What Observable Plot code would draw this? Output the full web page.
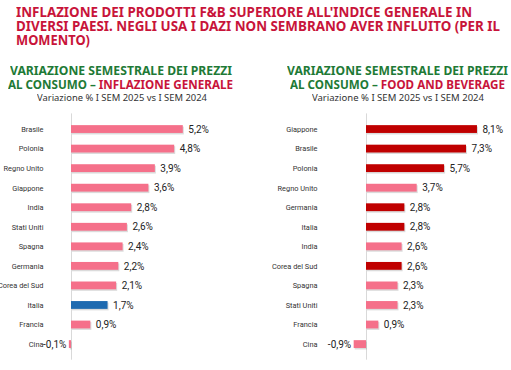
<!DOCTYPE html>
<html>
<head>
<meta charset="utf-8">
<script src="https://cdn.jsdelivr.net/npm/d3@7"></script>
<script src="https://cdn.jsdelivr.net/npm/@observablehq/plot@0.6"></script>
<style>
  html, body { margin: 0; padding: 0; background: #fff; }
  #page { position: relative; width: 511px; height: 370px; overflow: hidden; font-family: "Noto Sans", sans-serif; }
  .fit { position: absolute; white-space: nowrap; transform-origin: 0 50%; display: inline-block; }
  .t { font-weight: bold; font-size: 14px; line-height: 14px; color: #C8143A; }
  .h { font-weight: bold; font-size: 12px; line-height: 13px; color: #1E7A36; }
  .h .red { color: #C8143A; }
  .s { font-size: 9px; line-height: 10px; color: #333; }
  .chart { position: absolute; top: 100px; }
</style>
</head>
<body>
<div id="page">
  <div class="fit t" data-l="16" data-y="12" data-w="456">INFLAZIONE DEI PRODOTTI F&amp;B SUPERIORE ALL'INDICE GENERALE IN</div>
  <div class="fit t" data-l="16" data-y="26" data-w="484">DIVERSI PAESI. NEGLI USA I DAZI NON SEMBRANO AVER INFLUITO (PER IL</div>
  <div class="fit t" data-l="16" data-y="40" data-w="74">MOMENTO)</div>

  <div class="fit h" data-l="10" data-y="70" data-w="222">VARIAZIONE SEMESTRALE DEI PREZZI</div>
  <div class="fit h" data-l="8" data-y="84" data-w="225">AL CONSUMO – <span class="red">INFLAZIONE GENERALE</span></div>
  <div class="fit s" data-l="37" data-y="98" data-w="170">Variazione % I SEM 2025 vs I SEM 2024</div>

  <div class="fit h" data-l="287" data-y="70" data-w="221">VARIAZIONE SEMESTRALE DEI PREZZI</div>
  <div class="fit h" data-l="290" data-y="84" data-w="215">AL CONSUMO – <span class="red">FOOD AND BEVERAGE</span></div>
  <div class="fit s" data-l="312" data-y="98" data-w="172">Variazione % I SEM 2025 vs I SEM 2024</div>

  <div class="chart" id="left" style="left:0px;"></div>
  <div class="chart" id="right" style="left:255px;"></div>
</div>
<script>
const leftCountries = ["Brasile","Polonia","Regno Unito","Giappone","India","Stati Uniti","Spagna","Germania","Corea del Sud","Italia","Francia","Cina"];
const leftValues = [5.2,4.8,3.9,3.6,2.8,2.6,2.4,2.2,2.1,1.7,0.9,-0.1];
const rightCountries = ["Giappone","Brasile","Polonia","Regno Unito","Germania","Italia","India","Corea del Sud","Spagna","Stati Uniti","Francia","Cina"];
const rightValues = [8.1,7.3,5.7,3.7,2.8,2.8,2.6,2.6,2.3,2.3,0.9,-0.9];
const leftHighlight = ["Italia"];
const rightHighlight = ["Giappone","Brasile","Polonia","Germania","Italia","Corea del Sud"];

const PINK = "#F5708A", BLUE = "#1E6AB0", DARKRED = "#C00000";
const fmt = v => v.toFixed(1).replace(".", ",") + "%";

// fit header lines to their widths
document.querySelectorAll(".fit").forEach(el => {
  const r = el.getBoundingClientRect();
  el.style.left = el.dataset.l + "px";
  el.style.top = (+el.dataset.y - r.height / 2) + "px";
  el.style.transform = `scaleX(${(+el.dataset.w / r.width).toFixed(4)})`;
});

function chart(countries, values, colorOf, width, marginLeft, domainMax, marginRight, labelDx) {
  const data = countries.map((c, i) => ({country: c, value: values[i]}));
  const pos = data.filter(d => d.value >= 0);
  const neg = data.filter(d => d.value < 0);
  return Plot.plot({
    width, height: 270,
    marginLeft, marginRight, marginTop: 13.4, marginBottom: 10.3,
    x: {domain: [0, domainMax], axis: null},
    y: {domain: countries, padding: 0.6, round: false, axis: null},
    style: {fontFamily: "Roboto, sans-serif", background: "transparent"},
    marks: [
      Plot.ruleX([0], {stroke: "#d9d9d9"}),
      Plot.barX(data, {x: "value", y: "country", fill: "#999", fillOpacity: 0.35, dx: 1, dy: 1.5}),
      Plot.barX(data, {x: "value", y: "country", fill: d => colorOf(d.country)}),
      Plot.text(data, {y: "country", text: "country", frameAnchor: "left", textAnchor: "end", dx: labelDx, fontSize: 7.4, fill: "#333", ariaLabel: "country-labels"}),
      Plot.text(pos, {x: "value", y: "country", text: d => fmt(d.value), textAnchor: "start", dx: 5, fontSize: 10, fill: "#222", ariaLabel: "value-labels"}),
      Plot.text(neg, {x: "value", y: "country", text: d => fmt(d.value), textAnchor: "end", dx: -3, fontSize: 10, fill: "#222", ariaLabel: "value-labels"})
    ]
  });
}

// horizontally condense texts around their own anchor point
function condense(svg, selector, factor) {
  svg.querySelectorAll(selector).forEach(t => {
    let tr = t.getAttribute("transform");
    if (!tr) {
      const x = t.getAttribute("x") || 0, y = t.getAttribute("y") || 0;
      t.removeAttribute("x"); t.removeAttribute("y");
      tr = `translate(${x},${y})`;
    }
    t.setAttribute("transform", `${tr} scale(${factor},1)`);
  });
}

const L = chart(leftCountries, leftValues, c => leftHighlight.includes(c) ? BLUE : PINK, 255, 71, 8, 12, -28);
const R = chart(rightCountries, rightValues, c => rightHighlight.includes(c) ? DARKRED : PINK, 256, 111, 10, 8, -49);
document.getElementById("left").append(L);
document.getElementById("right").append(R);
for (const s of [L, R]) {
  condense(s, 'g[aria-label="country-labels"] text', 0.9);
  condense(s, 'g[aria-label="value-labels"] text', 0.9);
}
</script>
</body>
</html>
